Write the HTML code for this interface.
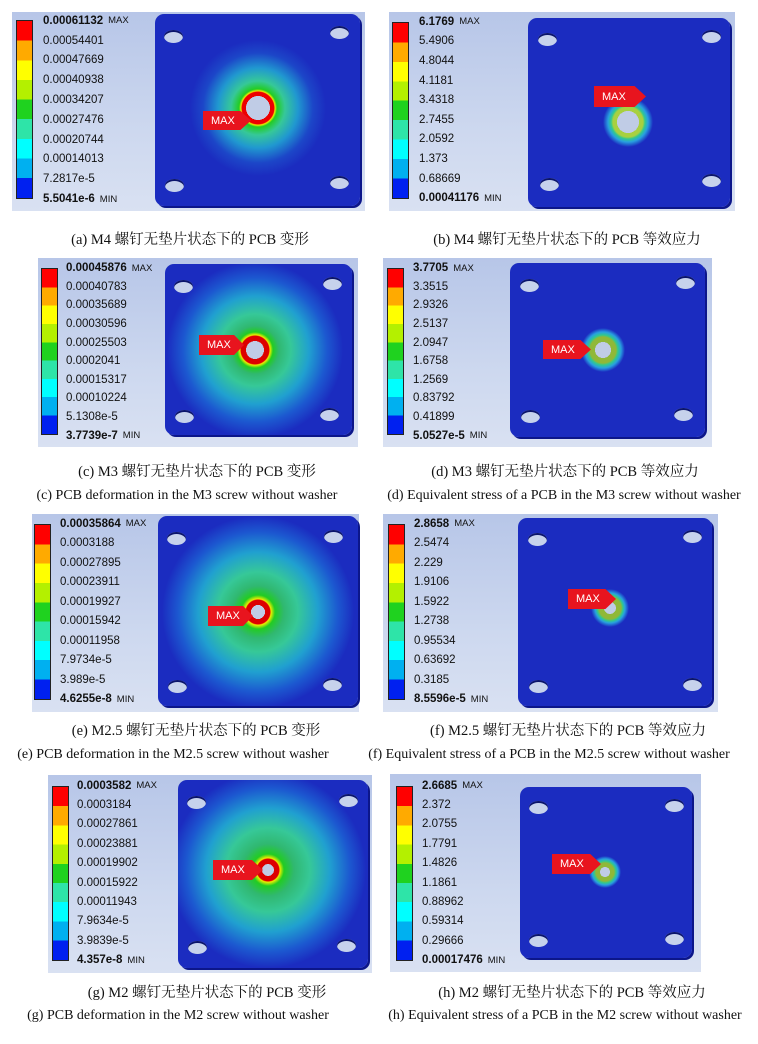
<!DOCTYPE html>
<html><head><meta charset="utf-8">
<style>
*{margin:0;padding:0;box-sizing:border-box}
body{width:758px;height:1044px;background:#fff;position:relative;overflow:hidden;font-family:"Liberation Sans","Noto Sans CJK SC",sans-serif}
.box{position:absolute;background:linear-gradient(180deg,#b7c6e8 0%,#cdd8ef 60%,#d9e1f2 100%)}
.cb{position:absolute;width:17px;border:1px solid #222;background:linear-gradient(180deg,#f00 0 11.1%,#fa0 11.1% 22.2%,#ff0 22.2% 33.3%,#b4f000 33.3% 44.4%,#1fd21f 44.4% 55.5%,#2ee4a8 55.5% 66.6%,#0ff 66.6% 77.7%,#00b0f0 77.7% 88.8%,#0020f0 88.8% 100%)}
.lb{position:absolute;font-size:11.5px;color:#111;white-space:nowrap}
.lb div{display:flex;align-items:center}
.lb b{font-weight:bold}
.lb span{font-size:9.5px;margin-left:5px}
.pl{position:absolute;border-radius:9px;box-shadow:2px 2px 0 #0c168a}
.h{position:absolute;width:19px;height:13px;border-radius:50%;background:#c6d2ec;box-shadow:inset 0 2px 0 #0a146c}
.tag{position:absolute;background:#e8141e;color:#fff;font-size:11px;display:flex;align-items:center;padding-left:8px;clip-path:polygon(0 0,78% 0,100% 50%,78% 100%,0 100%)}
.cap{position:absolute;font-family:"Liberation Serif","Noto Serif CJK SC",serif;font-size:14px;color:#111;white-space:nowrap;transform:translateX(-50%)}
.cn{font-size:14.5px}
</style></head><body>

<!-- (a) -->
<div class="box" style="left:12px;top:12px;width:353px;height:199px"></div>
<div class="cb" style="left:16px;top:20px;height:179px"></div>
<div class="lb" style="left:43px;top:11px"><div style="height:19.8px"><b>0.00061132</b><span>MAX</span></div><div style="height:19.8px">0.00054401</div><div style="height:19.8px">0.00047669</div><div style="height:19.8px">0.00040938</div><div style="height:19.8px">0.00034207</div><div style="height:19.8px">0.00027476</div><div style="height:19.8px">0.00020744</div><div style="height:19.8px">0.00014013</div><div style="height:19.8px">7.2817e-5</div><div style="height:19.8px"><b>5.5041e-6</b><span>MIN</span></div></div>
<div class="pl" style="left:155px;top:14px;width:205px;height:192px;background:radial-gradient(circle at 103px 94px,#c0cce6 0 12px,#e00 12px 16px,#ee0 17px,#2c2 19px,#36c898 27px,#2098d0 40px,#1c46c8 55px,#1b2cc0 68px)"></div>
<div class="h" style="left:164px;top:30px"></div><div class="h" style="left:330px;top:26px"></div><div class="h" style="left:165px;top:179px"></div><div class="h" style="left:330px;top:176px"></div>
<div class="tag" style="left:203px;top:111px;width:48px;height:19px">MAX</div>

<!-- (b) -->
<div class="box" style="left:389px;top:12px;width:346px;height:199px"></div>
<div class="cb" style="left:392px;top:22px;height:177px"></div>
<div class="lb" style="left:419px;top:12px"><div style="height:19.6px"><b>6.1769</b><span>MAX</span></div><div style="height:19.6px">5.4906</div><div style="height:19.6px">4.8044</div><div style="height:19.6px">4.1181</div><div style="height:19.6px">3.4318</div><div style="height:19.6px">2.7455</div><div style="height:19.6px">2.0592</div><div style="height:19.6px">1.373</div><div style="height:19.6px">0.68669</div><div style="height:19.6px"><b>0.00041176</b><span>MIN</span></div></div>
<div class="pl" style="left:528px;top:18px;width:202px;height:189px;background:radial-gradient(circle at 100px 104px,#c0cce6 0 11px,#a8d040 11px 15px,#30c890 17px,#28a0e0 20px,#1b2cc0 25px)"></div>
<div class="h" style="left:538px;top:33px"></div><div class="h" style="left:702px;top:30px"></div><div class="h" style="left:540px;top:178px"></div><div class="h" style="left:702px;top:174px"></div>
<div class="tag" style="left:594px;top:86px;width:52px;height:21px">MAX</div>
<div class="cap cn" style="left:190px;top:228px">(a) M4 螺钉无垫片状态下的 PCB 变形</div>
<div class="cap cn" style="left:567px;top:228px">(b) M4 螺钉无垫片状态下的 PCB 等效应力</div>

<!-- (c) -->
<div class="box" style="left:38px;top:258px;width:320px;height:189px"></div>
<div class="cb" style="left:41px;top:268px;height:167px"></div>
<div class="lb" style="left:66px;top:259px"><div style="height:18.6px"><b>0.00045876</b><span>MAX</span></div><div style="height:18.6px">0.00040783</div><div style="height:18.6px">0.00035689</div><div style="height:18.6px">0.00030596</div><div style="height:18.6px">0.00025503</div><div style="height:18.6px">0.0002041</div><div style="height:18.6px">0.00015317</div><div style="height:18.6px">0.00010224</div><div style="height:18.6px">5.1308e-5</div><div style="height:18.6px"><b>3.7739e-7</b><span>MIN</span></div></div>
<div class="pl" style="left:165px;top:264px;width:187px;height:171px;background:radial-gradient(circle at 90px 86px,#c0cce6 0 9px,#d00 9px 14px,#ee0 15px,#2c2 18px,#30b870 24px,#36c898 36px,#20a0d0 54px,#1c58d0 72px,#1b2cc0 88px)"></div>
<div class="h" style="left:174px;top:280px"></div><div class="h" style="left:323px;top:277px"></div><div class="h" style="left:175px;top:410px"></div><div class="h" style="left:320px;top:408px"></div>
<div class="tag" style="left:199px;top:335px;width:45px;height:20px">MAX</div>

<!-- (d) -->
<div class="box" style="left:383px;top:258px;width:329px;height:189px"></div>
<div class="cb" style="left:387px;top:268px;height:167px"></div>
<div class="lb" style="left:413px;top:259px"><div style="height:18.6px"><b>3.7705</b><span>MAX</span></div><div style="height:18.6px">3.3515</div><div style="height:18.6px">2.9326</div><div style="height:18.6px">2.5137</div><div style="height:18.6px">2.0947</div><div style="height:18.6px">1.6758</div><div style="height:18.6px">1.2569</div><div style="height:18.6px">0.83792</div><div style="height:18.6px">0.41899</div><div style="height:18.6px"><b>5.0527e-5</b><span>MIN</span></div></div>
<div class="pl" style="left:510px;top:263px;width:195px;height:174px;background:radial-gradient(circle at 93px 87px,#c0cce6 0 8px,#90b838 8px 13px,#30c890 15px,#28a0e0 18px,#1b2cc0 22px)"></div>
<div class="h" style="left:520px;top:279px"></div><div class="h" style="left:676px;top:276px"></div><div class="h" style="left:521px;top:410px"></div><div class="h" style="left:674px;top:408px"></div>
<div class="tag" style="left:543px;top:340px;width:48px;height:19px">MAX</div>
<div class="cap cn" style="left:197px;top:460px">(c) M3 螺钉无垫片状态下的 PCB 变形</div>
<div class="cap cn" style="left:565px;top:460px">(d) M3 螺钉无垫片状态下的 PCB 等效应力</div>
<div class="cap" style="left:187px;top:488px">(c) PCB deformation in the M3 screw without washer</div>
<div class="cap" style="left:564px;top:488px">(d) Equivalent stress of a PCB in the M3 screw without washer</div>

<!-- (e) -->
<div class="box" style="left:32px;top:514px;width:327px;height:198px"></div>
<div class="cb" style="left:34px;top:524px;height:176px"></div>
<div class="lb" style="left:60px;top:514px"><div style="height:19.5px"><b>0.00035864</b><span>MAX</span></div><div style="height:19.5px">0.0003188</div><div style="height:19.5px">0.00027895</div><div style="height:19.5px">0.00023911</div><div style="height:19.5px">0.00019927</div><div style="height:19.5px">0.00015942</div><div style="height:19.5px">0.00011958</div><div style="height:19.5px">7.9734e-5</div><div style="height:19.5px">3.989e-5</div><div style="height:19.5px"><b>4.6255e-8</b><span>MIN</span></div></div>
<div class="pl" style="left:158px;top:516px;width:200px;height:190px;background:radial-gradient(circle at 100px 96px,#c0cce6 0 7px,#d00 7px 12px,#ee0 13px,#2c2 17px,#30b870 26px,#36c898 40px,#20a0d0 60px,#1c58d0 80px,#1b2cc0 96px)"></div>
<div class="h" style="left:167px;top:532px"></div><div class="h" style="left:324px;top:530px"></div><div class="h" style="left:168px;top:680px"></div><div class="h" style="left:323px;top:678px"></div>
<div class="tag" style="left:208px;top:606px;width:45px;height:20px">MAX</div>

<!-- (f) -->
<div class="box" style="left:383px;top:514px;width:335px;height:198px"></div>
<div class="cb" style="left:388px;top:524px;height:176px"></div>
<div class="lb" style="left:414px;top:514px"><div style="height:19.5px"><b>2.8658</b><span>MAX</span></div><div style="height:19.5px">2.5474</div><div style="height:19.5px">2.229</div><div style="height:19.5px">1.9106</div><div style="height:19.5px">1.5922</div><div style="height:19.5px">1.2738</div><div style="height:19.5px">0.95534</div><div style="height:19.5px">0.63692</div><div style="height:19.5px">0.3185</div><div style="height:19.5px"><b>8.5596e-5</b><span>MIN</span></div></div>
<div class="pl" style="left:518px;top:518px;width:194px;height:188px;background:radial-gradient(circle at 92px 90px,#c0cce6 0 6px,#90b838 6px 11px,#30c890 13px,#28a0e0 15px,#1b2cc0 19px)"></div>
<div class="h" style="left:528px;top:533px"></div><div class="h" style="left:683px;top:530px"></div><div class="h" style="left:529px;top:680px"></div><div class="h" style="left:683px;top:678px"></div>
<div class="tag" style="left:568px;top:589px;width:48px;height:20px">MAX</div>
<div class="cap cn" style="left:196px;top:719px">(e) M2.5 螺钉无垫片状态下的 PCB 变形</div>
<div class="cap cn" style="left:568px;top:719px">(f) M2.5 螺钉无垫片状态下的 PCB 等效应力</div>
<div class="cap" style="left:173px;top:747px">(e) PCB deformation in the M2.5 screw without washer</div>
<div class="cap" style="left:549px;top:747px">(f) Equivalent stress of a PCB in the M2.5 screw without washer</div>

<!-- (g) -->
<div class="box" style="left:48px;top:775px;width:324px;height:198px"></div>
<div class="cb" style="left:52px;top:786px;height:175px"></div>
<div class="lb" style="left:77px;top:776px"><div style="height:19.4px"><b>0.0003582</b><span>MAX</span></div><div style="height:19.4px">0.0003184</div><div style="height:19.4px">0.00027861</div><div style="height:19.4px">0.00023881</div><div style="height:19.4px">0.00019902</div><div style="height:19.4px">0.00015922</div><div style="height:19.4px">0.00011943</div><div style="height:19.4px">7.9634e-5</div><div style="height:19.4px">3.9839e-5</div><div style="height:19.4px"><b>4.357e-8</b><span>MIN</span></div></div>
<div class="pl" style="left:178px;top:780px;width:190px;height:188px;background:radial-gradient(circle at 90px 90px,#c0cce6 0 6px,#d00 6px 11px,#ee0 12px,#2c2 16px,#30b870 26px,#36c898 42px,#20a0d0 62px,#1c58d0 82px,#1b2cc0 98px)"></div>
<div class="h" style="left:187px;top:796px"></div><div class="h" style="left:339px;top:794px"></div><div class="h" style="left:188px;top:941px"></div><div class="h" style="left:337px;top:939px"></div>
<div class="tag" style="left:213px;top:860px;width:50px;height:20px">MAX</div>

<!-- (h) -->
<div class="box" style="left:390px;top:774px;width:311px;height:198px"></div>
<div class="cb" style="left:396px;top:786px;height:175px"></div>
<div class="lb" style="left:422px;top:776px"><div style="height:19.4px"><b>2.6685</b><span>MAX</span></div><div style="height:19.4px">2.372</div><div style="height:19.4px">2.0755</div><div style="height:19.4px">1.7791</div><div style="height:19.4px">1.4826</div><div style="height:19.4px">1.1861</div><div style="height:19.4px">0.88962</div><div style="height:19.4px">0.59314</div><div style="height:19.4px">0.29666</div><div style="height:19.4px"><b>0.00017476</b><span>MIN</span></div></div>
<div class="pl" style="left:520px;top:787px;width:172px;height:171px;background:radial-gradient(circle at 85px 85px,#c0cce6 0 5px,#90b838 5px 9px,#30c890 11px,#28a0e0 13px,#1b2cc0 16px)"></div>
<div class="h" style="left:529px;top:801px"></div><div class="h" style="left:665px;top:799px"></div><div class="h" style="left:529px;top:934px"></div><div class="h" style="left:665px;top:932px"></div>
<div class="tag" style="left:552px;top:854px;width:49px;height:20px">MAX</div>
<div class="cap cn" style="left:207px;top:981px">(g) M2 螺钉无垫片状态下的 PCB 变形</div>
<div class="cap cn" style="left:572px;top:981px">(h) M2 螺钉无垫片状态下的 PCB 等效应力</div>
<div class="cap" style="left:178px;top:1008px">(g) PCB deformation in the M2 screw without washer</div>
<div class="cap" style="left:565px;top:1008px">(h) Equivalent stress of a PCB in the M2 screw without washer</div>
</body></html>
